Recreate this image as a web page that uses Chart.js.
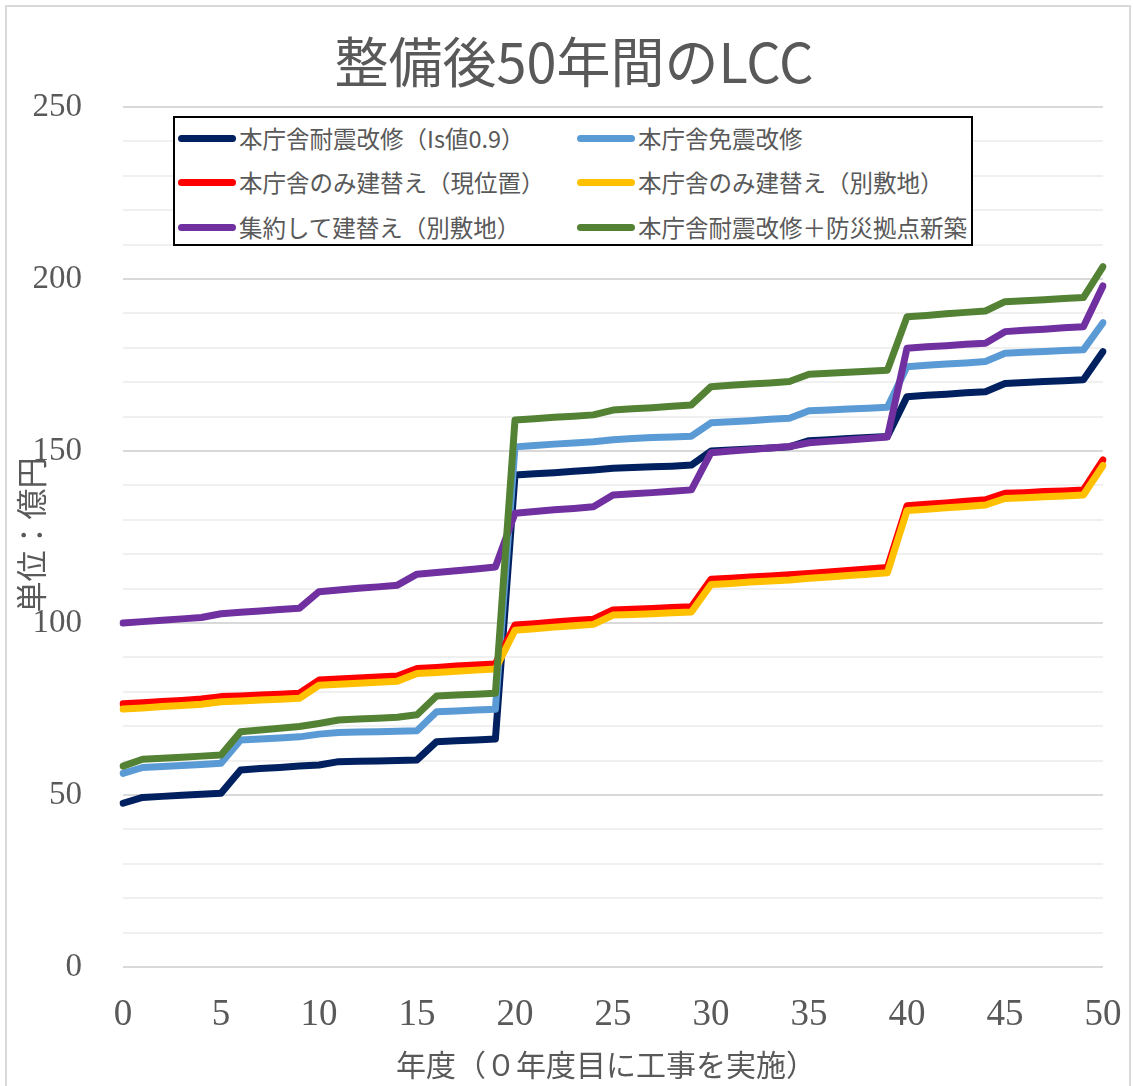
<!DOCTYPE html>
<html lang="ja">
<head>
<meta charset="utf-8">
<title>整備後50年間のLCC</title>
<script src="https://cdn.jsdelivr.net/npm/chart.js@4.4.1/dist/chart.umd.min.js"></script>
<style>
  html, body { margin: 0; padding: 0; background: #fff; }
  #wrap { position: relative; width: 1133px; height: 1086px; overflow: hidden; background: #fff; }
  #frame { position: absolute; left: 5px; top: 5px; width: 1126px; height: 1100px;
           border: 2px solid #d9d9d9; box-sizing: border-box; pointer-events: none; }
  #chart { position: absolute; left: 0; top: 0; }
  #legend { position: absolute; left: 173px; top: 116px; width: 800px; height: 130px;
            border: 2px solid #000; background: #fff; box-sizing: border-box; overflow: hidden; }
  .item { position: absolute; height: 30px; display: flex; align-items: center; white-space: nowrap;
          font-family: "Noto Sans CJK JP", sans-serif; font-size: 23.5px; color: #595959; }
  .swatch { display: inline-block; width: 58px; height: 7px; border-radius: 4px; margin-right: 3px; flex: none; }
</style>
</head>
<body>
<div id="wrap">
  <canvas id="chart" width="1133" height="1086"></canvas>
  <div id="legend"></div>
  <div id="frame"></div>
</div>
<script>
// 年度 (0〜50)
const years = ['0','1','2','3','4','5','6','7','8','9','10','11','12','13','14','15','16','17','18','19','20',
  '21','22','23','24','25','26','27','28','29','30','31','32','33','34','35','36','37','38','39','40',
  '41','42','43','44','45','46','47','48','49','50'];

// 累計LCC (億円)
const taishinIs09 = [47.6,49.3,49.6,49.9,50.2,50.5,57.3,57.7,58.0,58.4,58.7,59.7,59.8,59.9,60.0,60.2,65.5,65.8,66.0,66.3,
  143.0,143.4,143.7,144.1,144.5,145.0,145.2,145.4,145.6,145.9,150.0,150.3,150.6,150.9,151.2,153.0,153.3,153.6,153.9,154.2,
  165.8,166.2,166.5,166.9,167.2,169.6,169.9,170.2,170.4,170.7,178.9];
const menshin = [56.3,58.0,58.3,58.6,58.9,59.2,66.0,66.3,66.6,66.9,67.7,68.2,68.3,68.4,68.5,68.7,74.2,74.4,74.7,74.9,
  151.2,151.6,152.0,152.3,152.7,153.3,153.6,153.9,154.1,154.3,158.2,158.5,158.8,159.2,159.5,161.7,161.9,162.2,162.4,162.7,
  174.5,174.9,175.3,175.6,176.0,178.4,178.7,178.9,179.2,179.4,187.3];
const rebuildCurrent = [76.5,76.8,77.2,77.5,77.9,78.6,78.8,79.1,79.3,79.6,83.4,83.7,84.0,84.3,84.6,86.8,87.1,87.5,87.8,88.1,
  99.4,99.8,100.3,100.7,101.1,103.8,104.0,104.2,104.5,104.7,112.7,113.0,113.4,113.7,114.0,114.4,114.8,115.3,115.7,116.1,
  134.1,134.5,134.9,135.4,135.8,137.7,137.9,138.2,138.4,138.7,147.4];
const rebuildOther = [75.0,75.3,75.7,76.0,76.4,77.1,77.3,77.6,77.8,78.1,81.9,82.2,82.5,82.8,83.1,85.3,85.6,86.0,86.3,86.6,
  97.9,98.3,98.8,99.2,99.6,102.3,102.5,102.7,103.0,103.2,111.2,111.5,111.9,112.2,112.5,113.0,113.4,113.8,114.2,114.6,
  132.7,133.1,133.5,133.9,134.3,136.2,136.4,136.7,136.9,137.2,145.8];
const consolidate = [100.0,100.4,100.8,101.2,101.6,102.7,103.1,103.5,103.9,104.3,109.1,109.6,110.1,110.5,111.0,114.2,114.7,115.2,115.7,116.3,
  131.9,132.4,132.9,133.3,133.8,137.2,137.6,137.9,138.3,138.7,149.5,150.0,150.4,150.9,151.3,152.4,152.8,153.2,153.6,154.1,
  179.9,180.3,180.6,181.0,181.3,184.7,185.1,185.4,185.8,186.1,198.0];
const taishinBosai = [58.4,60.4,60.7,61.0,61.3,61.6,68.4,68.9,69.4,69.9,70.8,71.8,72.1,72.3,72.6,73.3,78.8,79.1,79.3,79.6,
  159.0,159.4,159.8,160.1,160.5,161.9,162.3,162.6,163.0,163.4,168.7,169.1,169.5,169.8,170.2,172.3,172.6,172.9,173.2,173.5,
  189.0,189.4,189.9,190.3,190.7,193.4,193.7,194.0,194.3,194.6,203.6];

const seriesNames = ['本庁舎耐震改修（Is値0.9）','本庁舎免震改修','本庁舎のみ建替え（現位置）',
  '本庁舎のみ建替え（別敷地）','集約して建替え（別敷地）','本庁舎耐震改修＋防災拠点新築'];
const seriesValues = [taishinIs09, menshin, rebuildCurrent, rebuildOther, consolidate, taishinBosai];
const seriesColors = ['#002060','#5B9BD5','#FF0000','#FFC000','#7030A0','#548235'];

const titleText = '整備後50年間のLCC';
const xTitle = '年度（０年度目に工事を実施）';
const yTitle = '単位：億円';

const TEXT_GRAY = '#595959';
const SERIF = '"Liberation Serif", "Times New Roman", serif';
const SANS = '"Noto Sans CJK JP", sans-serif';

// Title and axis captions drawn on the canvas
const captions = {
  id: 'captions',
  afterDraw(chart) {
    const ctx = chart.ctx;
    ctx.save();
    ctx.fillStyle = TEXT_GRAY;
    ctx.textAlign = 'center';
    ctx.textBaseline = 'middle';
    ctx.font = '54px ' + SANS;
    ctx.fillText(titleText, 574, 62);
    ctx.font = '30px ' + SANS;
    ctx.fillText(xTitle, 606, 1065);
    ctx.translate(31, 535);
    ctx.rotate(-Math.PI / 2);
    ctx.font = '31px ' + SANS;
    ctx.fillText(yTitle, 0, 0);
    ctx.restore();
  }
};

const datasets = seriesNames.map((name, i) => ({
  label: name,
  data: seriesValues[i],
  borderColor: seriesColors[i],
  backgroundColor: seriesColors[i],
  order: seriesNames.length - i   // later series drawn on top
}));

new Chart(document.getElementById('chart'), {
  type: 'line',
  data: { labels: years, datasets },
  options: {
    responsive: false,
    animation: false,
    layout: { padding: { left: 0, right: 30, top: 107, bottom: 0 } },
    plugins: { legend: { display: false }, tooltip: { enabled: false }, title: { display: false } },
    elements: {
      point: { radius: 0, hoverRadius: 0 },
      line: { tension: 0, borderWidth: 7, borderCapStyle: 'round', borderJoinStyle: 'round', fill: false }
    },
    scales: {
      x: {
        type: 'category',
        offset: false,
        grid: { display: false, drawTicks: false },
        border: { display: false },
        ticks: {
          autoSkip: false, maxRotation: 0, minRotation: 0, padding: 30,
          color: TEXT_GRAY, font: { family: SERIF, size: 37, lineHeight: 1 },
          callback: (v, i) => (i % 5 === 0 ? years[i] : null)
        },
        afterFit: s => { s.height = 119; s.paddingLeft = 0; s.paddingRight = 0; }
      },
      y: {
        min: 0, max: 250,
        grid: {
          drawTicks: false,
          color: c => (c.tick && c.tick.value % 50 === 0 ? '#d9d9d9' : '#f0f0f0'),
          lineWidth: 2
        },
        border: { display: false },
        ticks: {
          stepSize: 10, autoSkip: false, padding: 41,
          color: TEXT_GRAY, font: { family: SERIF, size: 33, lineHeight: 1 },
          callback: v => (v % 50 === 0 ? String(v) : '')
        },
        afterFit: s => { s.width = 123; s.paddingTop = 0; s.paddingBottom = 0; }
      }
    }
  },
  plugins: [captions]
});

// Boxed legend in two columns
const legend = document.getElementById('legend');
const colLeft = [3, 402];
const rowTop = [5, 49, 94];
seriesNames.forEach((name, i) => {
  const item = document.createElement('div');
  item.className = 'item';
  item.style.left = colLeft[i % 2] + 'px';
  item.style.top = rowTop[Math.floor(i / 2)] + 'px';
  const sw = document.createElement('span');
  sw.className = 'swatch';
  sw.style.background = seriesColors[i];
  const tx = document.createElement('span');
  tx.textContent = name;
  item.appendChild(sw);
  item.appendChild(tx);
  legend.appendChild(item);
});
</script>
</body>
</html>
